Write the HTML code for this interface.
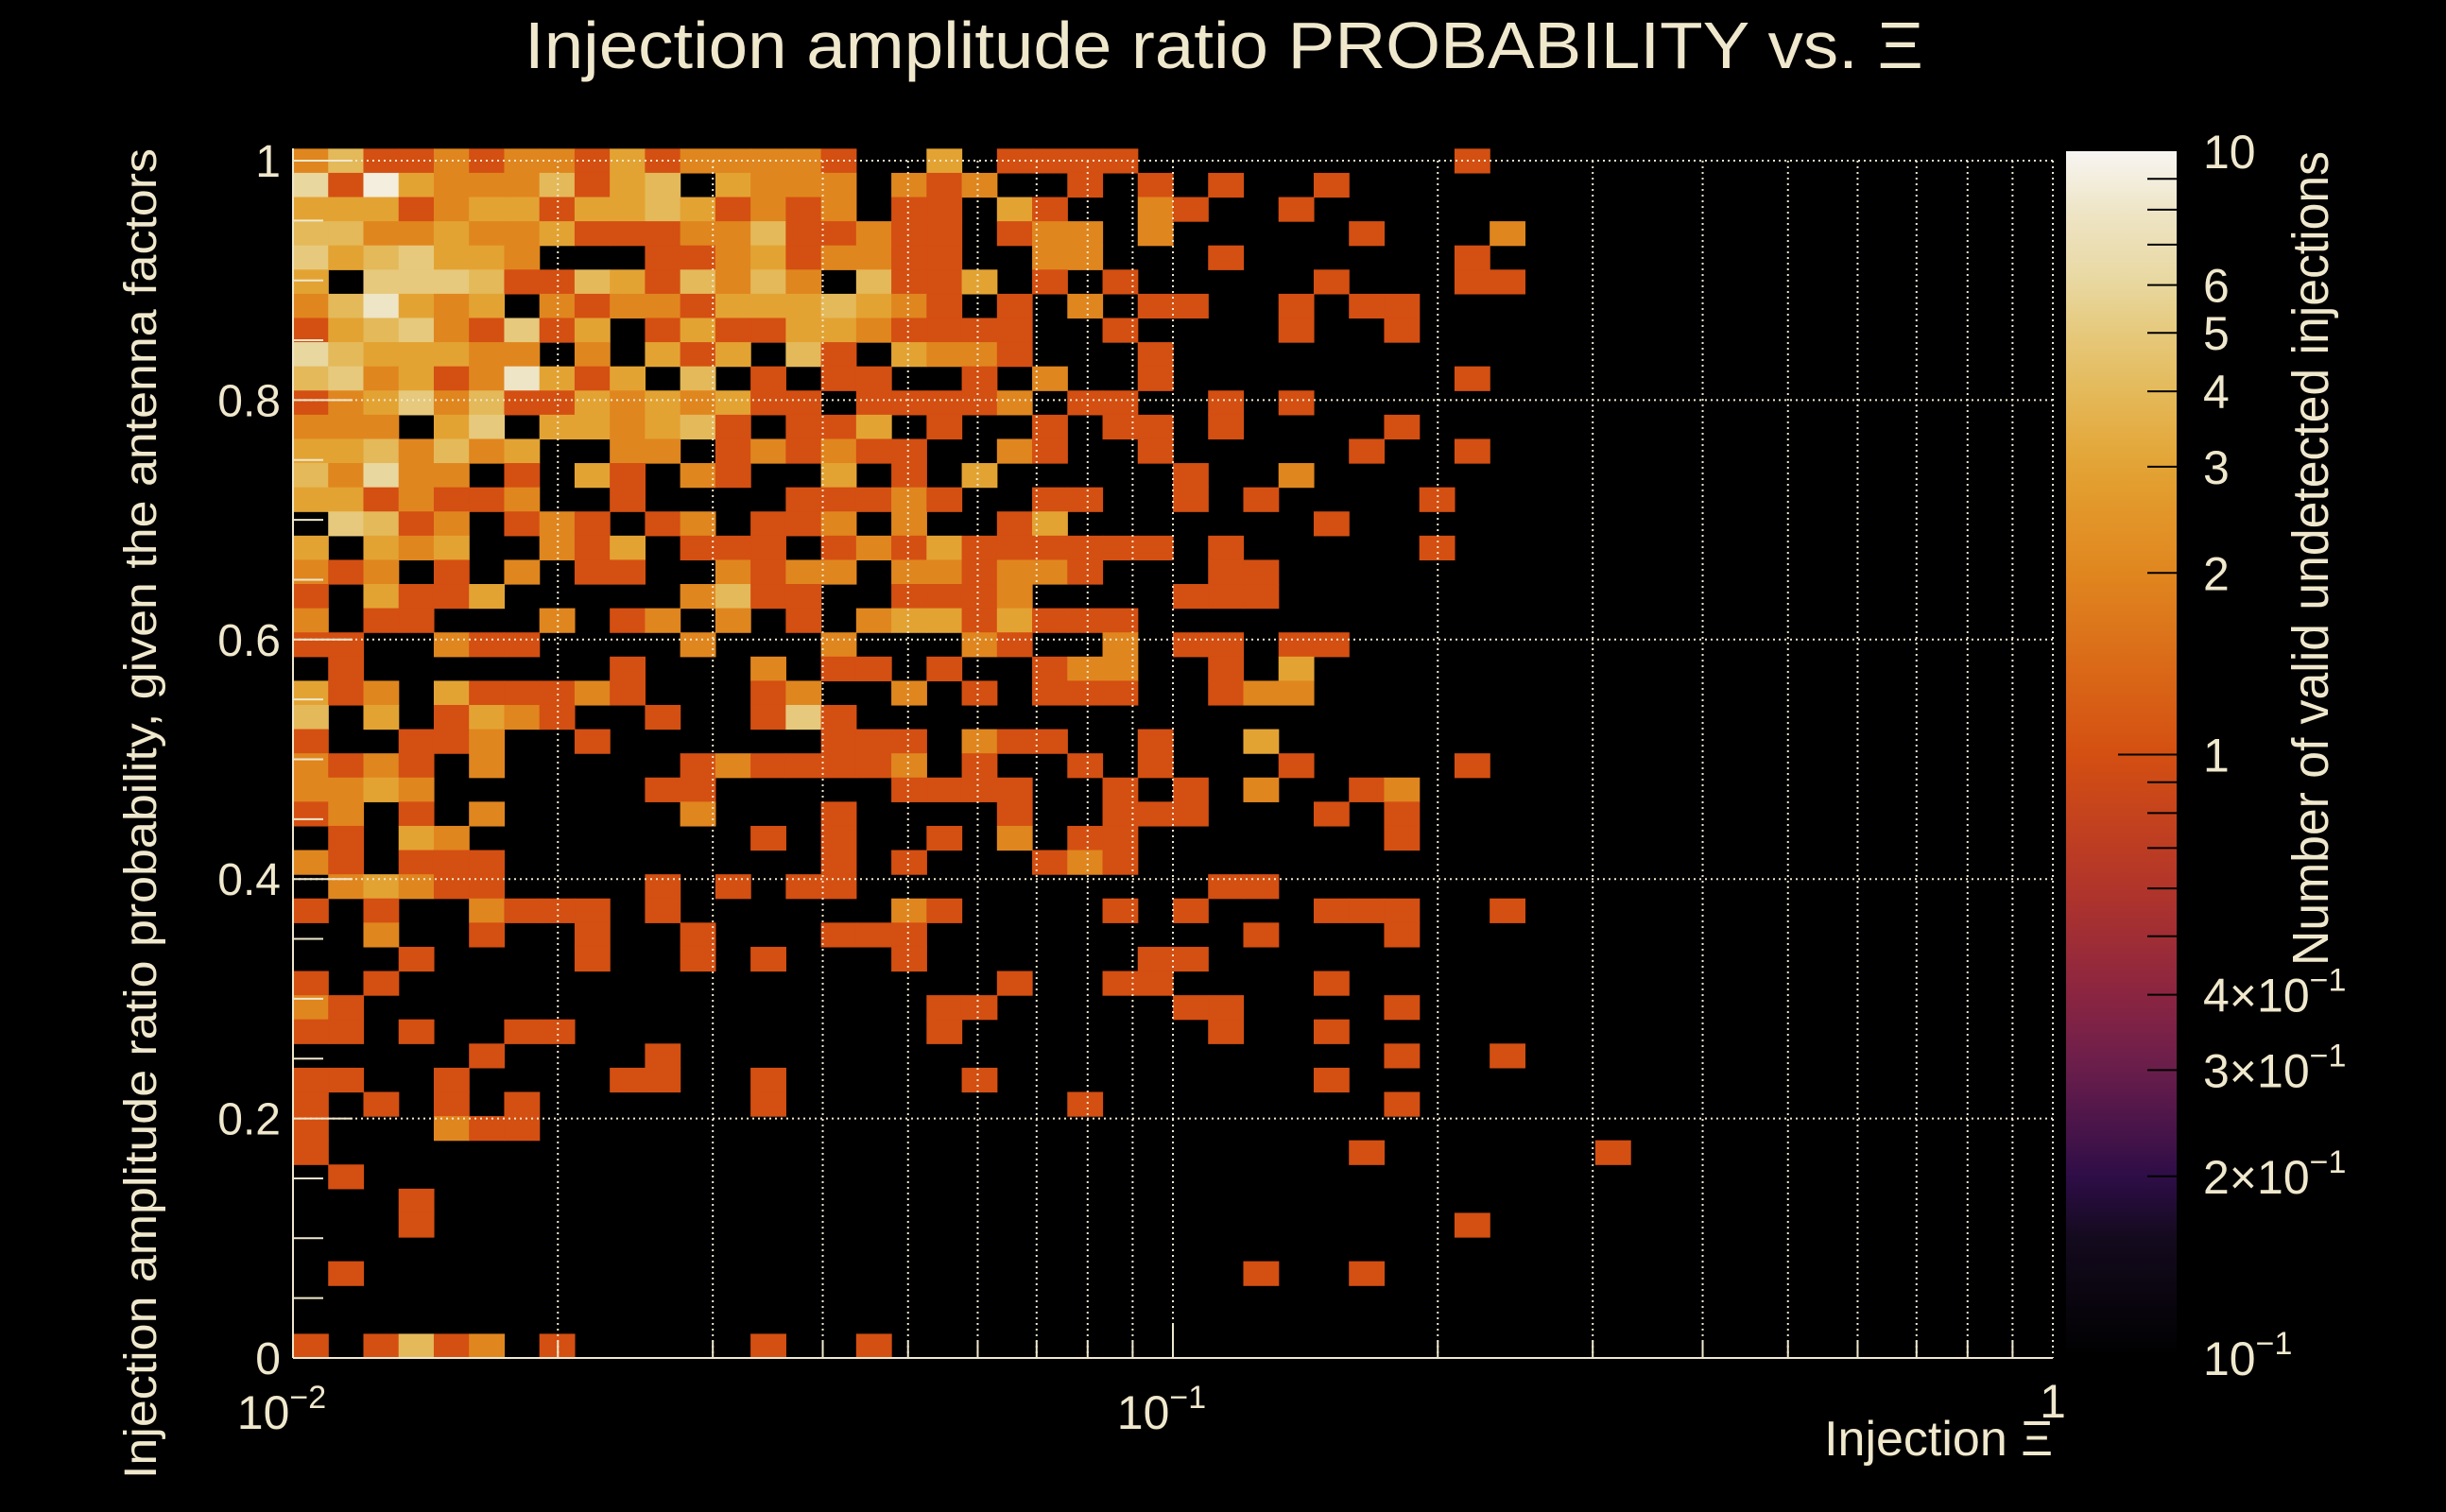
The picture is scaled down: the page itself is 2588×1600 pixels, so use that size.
<!DOCTYPE html>
<html><head><meta charset="utf-8"><title>Injection amplitude ratio probability heatmap</title>
<style>
html,body{margin:0;padding:0;background:#000;}
svg{display:block;}
text{font-family:"Liberation Sans",sans-serif;fill:#f0e8cd;}
</style></head>
<body>
<svg id="chart" width="2588" height="1600" viewBox="0 0 2588 1600" xmlns="http://www.w3.org/2000/svg">
  <rect x="0" y="0" width="2588" height="1600" fill="#000"/>
  <defs>
    <linearGradient id="cbgrad" x1="0" y1="1" x2="0" y2="0"></linearGradient>
  </defs>
  <g id="cells"></g>
  <g id="grid"></g>
  <g id="axes"></g>
  <g id="colorbar"></g>
  <text x="1295" y="72" font-size="70" text-anchor="middle" textLength="1480" lengthAdjust="spacingAndGlyphs">Injection amplitude ratio PROBABILITY vs.  Ξ</text>
  <text x="2172" y="1540" font-size="52" text-anchor="end">Injection Ξ</text>
  <text transform="translate(165,157) rotate(-90)" x="0" y="0" font-size="48" text-anchor="end" textLength="1408" lengthAdjust="spacingAndGlyphs">Injection amplitude ratio probability, given the antenna factors</text>
  <text transform="translate(2463,160) rotate(-90)" x="0" y="0" font-size="54" text-anchor="end" textLength="862" lengthAdjust="spacingAndGlyphs">Number of valid undetected injections</text>
</svg>
<script>
// ---- data ----
const xMin = 0.01, xMax = 1;
const yMin = 0, yMax = 1;
const nXBins = 50;
const nYBins = 50;
const yBinTop = 1.01;
const zMin = 0.1, zMax = 10;
// counts per row, top row first, column 0 = x 0.01
const countRows = [
"2411212213122221003011110000000001",
"619322241340322202120010101001",
"33312331334312120110310021001",
"44223223111224112110122020000010002",
"5345332000112312211002200010000001",
"30555411431424204113010100000100011",
"24832302122133343210102011001011",
"13452151301311332111100100001001",
"6433322020313041032210001",
"4523128313040101100102001000000001",
"12352411323231101111201100101",
"22203503323410113010010110100001",
"3342423002201212110021001000001001",
"42622010310210030103000001002",
"331211200100001112100110010100001",
"054120121012011202001300000001",
"303230021301110121311111101000001",
"2120102011002122022122100011",
"1031130000024110011120000111",
"201100020120201023313111",
"110021100002000200021002011011",
"01000000010002011010012200103",
"31203111210001200201011100122",
"40301321001001510",
"1001120010000001110211001003",
"2121020000012111120100101000100001",
"22320000001100000111100101020012",
"12010200000200010000100111000101",
"01032000000001010010201100000001",
"210111000000000101000121",
"0232110000101011000000000011",
"10100211101000000210000101000111001",
"00200100100100011100000000010001",
"00010000100101000100000011",
"101000000000000000001001100001",
"21000000000000000011000001100001",
"110100110000000000100000001001",
"00000100001000000000000000000001001",
"110010000110010000010000000001",
"10101010000001000000001000000001",
"10002110000000000",
"10000000000000000000000000000010000001",
"01",
"0001",
"0001000000000000000000000000000001",
"",
"010000000000000000000000000100100",
"",
"",
"10141201000001001"
];
const zTickValues = [10, 6, 5, 4, 3, 2, 1, 0.4, 0.3, 0.2, 0.1];
const zTickLabels = ["10", "6", "5", "4", "3", "2", "1", "4×10", "3×10", "2×10", "10"];
const zTickExp = ["", "", "", "", "", "", "", "−1", "−1", "−1", "−1"];
const yTickValues = [0, 0.2, 0.4, 0.6, 0.8, 1];
const yTickLabels = ["0", "0.2", "0.4", "0.6", "0.8", "1"];
const xTickValues = [0.01, 0.1, 1];
const xTickBase = ["10", "10", "1"];
const xTickExp = ["−2", "−1", ""];
const paletteT = [0, 0.1, 0.15, 0.24, 0.30, 0.39, 0.5, 0.65, 0.739, 0.801, 0.85, 0.889, 0.95, 1.0];
const paletteC = ["#000000","#140a1e","#2e0d47","#6a1e4c","#8a2541","#b2352a","#d44f12","#e0861f","#e3a333","#e4b95a","#e6c97c","#e8d79f","#eee5c6","#f7f5f2"];

// ---- layout ----
const L = 310, R = 2172, T = 170, B = 1437;
const NS = "http://www.w3.org/2000/svg";
const CREAM = "#f0e8cd";
function xS(v){ return L + (Math.log10(v) - Math.log10(xMin)) / (Math.log10(xMax) - Math.log10(xMin)) * (R - L); }
function yS(v){ return B - (v - yMin) / (yMax - yMin) * (B - T); }
const cbTop = 160, cbBot = 1437, cbL = 2186, cbR = 2303;
function zT(v){ return (Math.log10(v) - Math.log10(zMin)) / (Math.log10(zMax) - Math.log10(zMin)); }
function zS(v){ return cbBot - zT(v) * (cbBot - cbTop); }
function hex2rgb(h){ return [parseInt(h.substr(1,2),16),parseInt(h.substr(3,2),16),parseInt(h.substr(5,2),16)]; }
function colorFor(v){
  let t = Math.max(0, Math.min(1, zT(v)));
  for (let i = 1; i < paletteT.length; i++){
    if (t <= paletteT[i]){
      const f = (t - paletteT[i-1]) / (paletteT[i] - paletteT[i-1]);
      const a = hex2rgb(paletteC[i-1]), b = hex2rgb(paletteC[i]);
      return "rgb(" + a.map((c,k)=>Math.round(c + (b[k]-c)*f)).join(",") + ")";
    }
  }
  return paletteC[paletteC.length-1];
}
function mk(tag, attrs, parent){
  const e = document.createElementNS(NS, tag);
  for (const k in attrs) e.setAttribute(k, attrs[k]);
  parent.appendChild(e);
  return e;
}

// ---- cells ----
const cellsG = document.getElementById("cells");
const lxMin = Math.log10(xMin), lxMax = Math.log10(xMax);
const yBinH = (yBinTop - yMin) / nYBins;
countRows.forEach((row, r) => {
  const yb = nYBins - 1 - r;
  const y0 = yMin + yb * yBinH, y1 = y0 + yBinH;
  for (let c = 0; c < row.length; c++){
    const v = parseInt(row[c], 10);
    if (!v) continue;
    const x0 = Math.pow(10, lxMin + c * (lxMax - lxMin) / nXBins);
    const x1 = Math.pow(10, lxMin + (c + 1) * (lxMax - lxMin) / nXBins);
    const top = yS(y1), bot = Math.min(yS(Math.max(y0, yMin)), B);
    const rect = mk("rect", {x: xS(x0).toFixed(2), y: top.toFixed(2), width: (xS(x1) - xS(x0) + 0.6).toFixed(2), height: (bot - top + 0.6).toFixed(2), fill: colorFor(v)}, cellsG);
    
    
  }
});

// ---- grid ----
const gridG = document.getElementById("grid");
const dash = {stroke: CREAM, "stroke-width": 2, "stroke-dasharray": "2 4", fill: "none"};
for (let d = -2; d < 0; d++){
  for (let m = 1; m <= 9; m++){
    const v = m * Math.pow(10, d);
    if (v <= xMin) continue;
    const ln = mk("line", Object.assign({x1: xS(v), x2: xS(v), y1: T, y2: B}, dash), gridG);
    
    
  }
}
{
  const ln = mk("line", Object.assign({x1: xS(1), x2: xS(1), y1: T, y2: B}, dash), gridG);
  
  
}
yTickValues.forEach(v => {
  if (v === 0) return;
  const ln = mk("line", Object.assign({x1: L, x2: R, y1: yS(v), y2: yS(v)}, dash), gridG);
  
  
});

// ---- axes ----
const axG = document.getElementById("axes");
const solid = {stroke: CREAM, "stroke-width": 2};
const a1 = mk("line", Object.assign({x1: L, x2: L, y1: T - 13, y2: B}, solid), axG);


const a2 = mk("line", Object.assign({x1: L, x2: R, y1: B, y2: B}, solid), axG);


for (let i = 0; i <= 20; i++){
  const v = i * 0.05;
  const major = Math.abs(v * 5 - Math.round(v * 5)) < 1e-6;
  const t = mk("line", Object.assign({x1: L, x2: L + (major ? 63 : 32), y1: yS(v), y2: yS(v)}, solid), axG);
  
  
}
yTickValues.forEach((v, i) => {
  const tx = mk("text", {x: 297, y: yS(v) + 17, "font-size": 48, "text-anchor": "end"}, axG);
  tx.textContent = yTickLabels[i];
  
  
});
for (let d = -2; d < 0; d++){
  for (let m = 1; m <= 9; m++){
    const v = m * Math.pow(10, d);
    const major = m === 1;
    const t = mk("line", Object.assign({x1: xS(v), x2: xS(v), y1: B, y2: B - (major ? 36 : 18)}, solid), axG);
    
    
  }
}
xTickValues.forEach((v, i) => {
  const tx = mk("text", {x: xS(v) + (xTickExp[i] ? -12 : 0), y: xTickExp[i] ? 1512 : 1500, "font-size": 50, "text-anchor": "middle"}, axG);
  tx.textContent = xTickBase[i];
  if (xTickExp[i]){
    const sp = mk("tspan", {dy: -22, "font-size": 34}, tx);
    sp.textContent = xTickExp[i];
  }
  
  
});

// ---- colour bar ----
const grad = document.getElementById("cbgrad");
for (let i = 0; i <= 40; i++){
  const t = i / 40;
  const v = Math.pow(10, Math.log10(zMin) + t * (Math.log10(zMax) - Math.log10(zMin)));
  mk("stop", {offset: t, "stop-color": colorFor(v)}, grad);
}
const cbG = document.getElementById("colorbar");
const cbRect = mk("rect", {x: cbL, y: cbTop, width: cbR - cbL, height: cbBot - cbTop, fill: "url(#cbgrad)"}, cbG);


for (let d = -1; d < 1; d++){
  for (let m = 1; m <= 9; m++){
    const v = m * Math.pow(10, d);
    if (v <= zMin) continue;
    const t = mk("line", {x1: cbR, x2: cbR - (m === 1 ? 62 : 31), y1: zS(v), y2: zS(v), stroke: "#000", "stroke-width": 2}, cbG);
    
    
  }
}
zTickValues.forEach((v, i) => {
  const tx = mk("text", {x: 2331, y: zS(v) + 18, "font-size": 50}, cbG);
  tx.textContent = zTickLabels[i];
  if (zTickExp[i]){
    const sp = mk("tspan", {dy: -22, "font-size": 34}, tx);
    sp.textContent = zTickExp[i];
  }
  
  
});
</script>
</body></html>
